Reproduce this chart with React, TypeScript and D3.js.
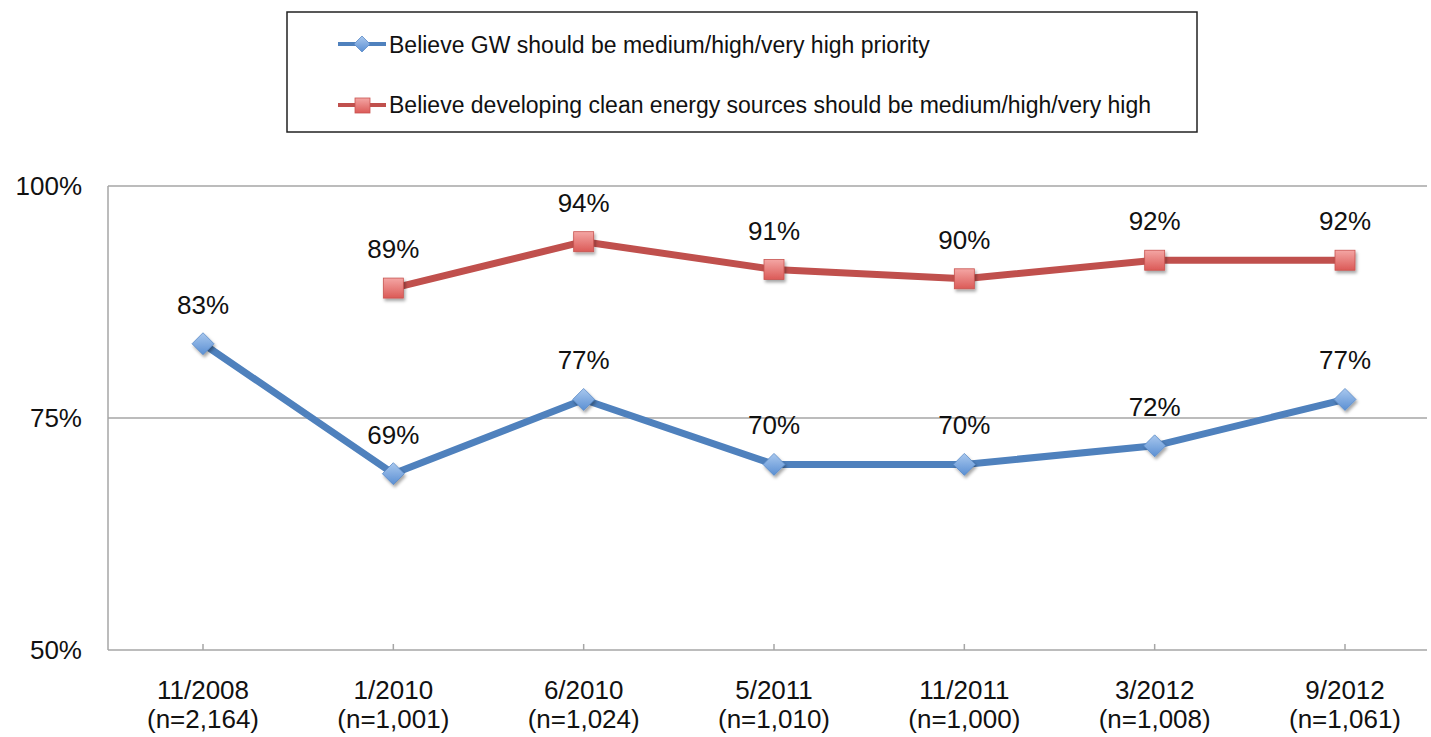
import React from "react";
import * as d3 from "d3";

const categories = ["11/2008", "1/2010", "6/2010", "5/2011", "11/2011", "3/2012", "9/2012"];
const sampleSizes = ["(n=2,164)", "(n=1,001)", "(n=1,024)", "(n=1,010)", "(n=1,000)", "(n=1,008)", "(n=1,061)"];
const gwValues: (number | null)[] = [83, 69, 77, 70, 70, 72, 77];
const cleanValues: (number | null)[] = [null, 89, 94, 91, 90, 92, 92];
const yTicks = [50, 75, 100];
const gwLabel = "Believe GW should be medium/high/very high priority";
const cleanLabel = "Believe developing clean energy sources should be medium/high/very high";

const W = 1431;
const H = 737;
const plotLeft = 108;
const plotRight = 1427;
const plotTop = 186;
const plotBottom = 650;
const FONT = "'Liberation Sans', Arial, Helvetica, sans-serif";
const BLUE = "#4F81BD";
const RED = "#C0504D";
const GRID = "#A6A6A6";

export default function App() {
  const x = d3.scalePoint<string>().domain(categories).range([203, 1345]);
  const y = d3.scaleLinear().domain([50, 100]).range([plotBottom, plotTop]);

  const line = d3
    .line<number | null>()
    .defined((d) => d != null)
    .x((_, i) => x(categories[i]) as number)
    .y((d) => y(d as number));

  const diamond = (cx: number, cy: number, r: number) =>
    `M${cx},${cy - r}L${cx + r},${cy}L${cx},${cy + r}L${cx - r},${cy}Z`;

  return (
    <svg
      width={W}
      height={H}
      style={{ position: "absolute", left: 0, top: 0, background: "#fff" }}
      fontFamily={FONT}
    >
      <defs>
        <linearGradient id="gBlue" x1="0" y1="0" x2="0" y2="1">
          <stop offset="0" stopColor="#A9C8EE" />
          <stop offset="1" stopColor="#5A8FD3" />
        </linearGradient>
        <linearGradient id="gRed" x1="0" y1="0" x2="0" y2="1">
          <stop offset="0" stopColor="#F4A6A4" />
          <stop offset="1" stopColor="#DB5A57" />
        </linearGradient>
        <filter id="shadow" x="-50%" y="-50%" width="200%" height="200%">
          <feDropShadow dx="1.5" dy="2.5" stdDeviation="1.8" floodColor="#000" floodOpacity="0.35" />
        </filter>
      </defs>

      {/* Legend box */}
      <rect x={287} y={12} width={910} height={120} fill="#fff" stroke="#222" strokeWidth={1.5} />
      <line x1={338} x2={386} y1={44} y2={44} stroke={BLUE} strokeWidth={4} />
      <path d={diamond(362, 44, 8)} fill="url(#gBlue)" stroke="#5A8AC6" strokeWidth={0.8} />
      <text x={389} y={53} fontSize={23} fill="#111">{gwLabel}</text>
      <line x1={338} x2={386} y1={105} y2={105} stroke={RED} strokeWidth={4} />
      <rect x={355} y={98} width={15} height={15} fill="url(#gRed)" stroke="#C85450" strokeWidth={0.8} />
      <text x={389} y={113} fontSize={23} fill="#111">{cleanLabel}</text>

      {/* Gridlines */}
      {yTicks.filter((t) => t !== 50).map((t) => (
        <line key={t} x1={plotLeft} x2={plotRight} y1={y(t)} y2={y(t)} stroke={GRID} strokeWidth={1.5} />
      ))}
      {/* Axes */}
      <line x1={plotLeft} x2={plotLeft} y1={plotTop} y2={plotBottom} stroke={GRID} strokeWidth={1.5} />
      <line x1={plotLeft} x2={plotRight} y1={plotBottom} y2={plotBottom} stroke={GRID} strokeWidth={1.5} />
      {categories.map((c) => (
        <line key={c} x1={x(c)} x2={x(c)} y1={plotBottom} y2={plotBottom - 6} stroke={GRID} strokeWidth={1.5} />
      ))}

      {/* Y tick labels */}
      {yTicks.map((t) => (
        <text key={t} x={82} y={y(t) + 9} fontSize={26} textAnchor="end" fill="#111">
          {`${t}%`}
        </text>
      ))}

      {/* X labels */}
      {categories.map((c, i) => (
        <g key={c}>
          <text x={x(c)} y={699} fontSize={26} textAnchor="middle" fill="#111">{c}</text>
          <text x={x(c)} y={728} fontSize={26} textAnchor="middle" fill="#111">{sampleSizes[i]}</text>
        </g>
      ))}

      {/* Lines */}
      <path d={line(gwValues) || ""} fill="none" stroke={BLUE} strokeWidth={7} strokeLinejoin="round" />
      <path d={line(cleanValues) || ""} fill="none" stroke={RED} strokeWidth={7} strokeLinejoin="round" />

      {/* Markers */}
      {gwValues.map((v, i) =>
        v == null ? null : (
          <path
            key={`gm${i}`}
            d={diamond(x(categories[i]) as number, y(v), 11)}
            fill="url(#gBlue)"
            stroke="#5A8AC6"
            strokeWidth={0.8}
            filter="url(#shadow)"
          />
        )
      )}
      {cleanValues.map((v, i) =>
        v == null ? null : (
          <rect
            key={`cm${i}`}
            x={(x(categories[i]) as number) - 10}
            y={y(v) - 10}
            width={20}
            height={20}
            fill="url(#gRed)"
            stroke="#C85450"
            strokeWidth={0.8}
            filter="url(#shadow)"
          />
        )
      )}

      {/* Data labels */}
      {gwValues.map((v, i) =>
        v == null ? null : (
          <text key={`gl${i}`} x={x(categories[i])} y={y(v) - 30} fontSize={26} textAnchor="middle" fill="#111">
            {`${v}%`}
          </text>
        )
      )}
      {cleanValues.map((v, i) =>
        v == null ? null : (
          <text key={`cl${i}`} x={x(categories[i])} y={y(v) - 30} fontSize={26} textAnchor="middle" fill="#111">
            {`${v}%`}
          </text>
        )
      )}
    </svg>
  );
}
